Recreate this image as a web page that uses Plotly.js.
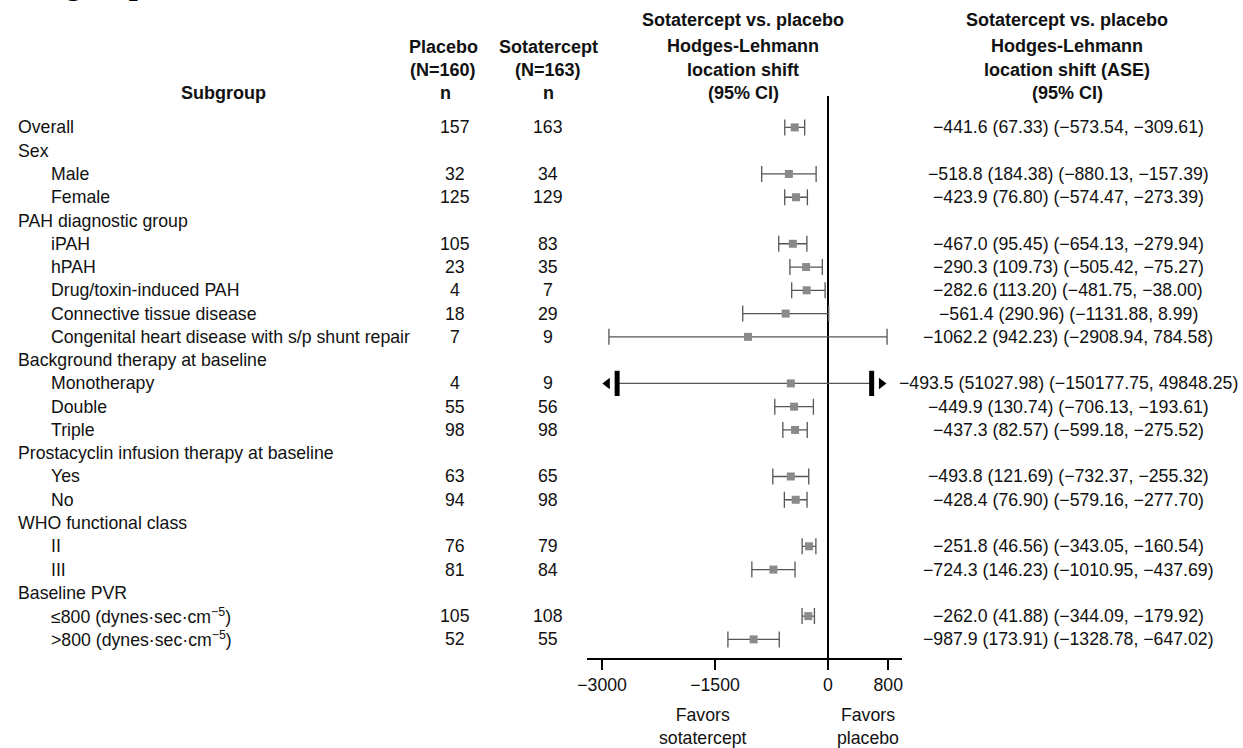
<!DOCTYPE html>
<html>
<head>
<meta charset="utf-8">
<script src="https://cdn.plot.ly/plotly-3.0.1.min.js"></script>
<style>html,body{margin:0;padding:0;background:#fff;}#chart{width:1243px;height:748px;}</style>
</head>
<body>
<div id="chart"></div>
<script>
// ---------- data ----------
const labels = ['Overall','Sex','Male','Female','PAH diagnostic group','iPAH','hPAH','Drug/toxin-induced PAH','Connective tissue disease','Congenital heart disease with s/p shunt repair','Background therapy at baseline','Monotherapy','Double','Triple','Prostacyclin infusion therapy at baseline','Yes','No','WHO functional class','II','III','Baseline PVR','≤800 (dynes·sec·cm<sup>−5</sup>)','>800 (dynes·sec·cm<sup>−5</sup>)'];
const indent = [0,0,1,1,0,1,1,1,1,1,0,1,1,1,0,1,1,0,1,1,0,1,1];
const placeboN = [157,null,32,125,null,105,23,4,18,7,null,4,55,98,null,63,94,null,76,81,null,105,52];
const sotaN = [163,null,34,129,null,83,35,7,29,9,null,9,56,98,null,65,98,null,79,84,null,108,55];
const est = [-441.6,null,-518.8,-423.9,null,-467.0,-290.3,-282.6,-561.4,-1062.2,null,-493.5,-449.9,-437.3,null,-493.8,-428.4,null,-251.8,-724.3,null,-262.0,-987.9];
const ase = [67.33,null,184.38,76.80,null,95.45,109.73,113.20,290.96,942.23,null,51027.98,130.74,82.57,null,121.69,76.90,null,46.56,146.23,null,41.88,173.91];
const ciLo = [-573.54,null,-880.13,-574.47,null,-654.13,-505.42,-481.75,-1131.88,-2908.94,null,-150177.75,-706.13,-599.18,null,-732.37,-579.16,null,-343.05,-1010.95,null,-344.09,-1328.78];
const ciHi = [-309.61,null,-157.39,-273.39,null,-279.94,-75.27,-38.00,8.99,784.58,null,49848.25,-193.61,-275.52,null,-255.32,-277.70,null,-160.54,-437.69,null,-179.92,-647.02];
const tickVals = [-3000,-1500,0,800];
const tickText = ['−3000','−1500','0','800'];

// ---------- layout helpers ----------
const W = 1243, H = 748;
const px = x => x / W;
const py = y => 1 - y / H;
const xRange = [-3200, 983];
const clipLo = -2800, clipHi = 580, arrowOff = 130;
const rowTop = -1.35, rowBottom = 22.8;
const FONT = 'Liberation Sans, Arial, Helvetica, sans-serif';
const FS = 17.7;
const HFS = 18;
const fmt = (v, d) => v.toFixed(d).replace('-', '−');

const rows = labels.map((_, i) => i);
const idx = rows.filter(i => est[i] !== null);

const dispLo = idx.map(i => (ciLo[i] < xRange[0] ? clipLo : ciLo[i]));
const dispHi = idx.map(i => (ciHi[i] > xRange[1] ? clipHi : ciHi[i]));

const traces = [];
traces.push({
  type: 'scatter', mode: 'markers',
  x: idx.map(i => est[i]), y: idx,
  marker: {symbol: 'square', size: 8, color: '#8a8a8a'},
  error_x: {type: 'data', symmetric: false,
    array: idx.map((i, k) => dispHi[k] - est[i]),
    arrayminus: idx.map((i, k) => est[i] - dispLo[k]),
    color: '#555555', thickness: 1.3, width: 8},
  hoverinfo: 'skip', showlegend: false
});

// arrows for CIs beyond the axis
const clippedL = idx.filter(i => ciLo[i] < xRange[0]);
const clippedR = idx.filter(i => ciHi[i] > xRange[1]);
traces.push({
  type: 'scatter', mode: 'markers',
  x: clippedL.map(() => clipLo).concat(clippedR.map(() => clipHi)),
  y: clippedL.concat(clippedR),
  marker: {symbol: 'line-ns', size: 18, line: {width: 5, color: '#000'}},
  hoverinfo: 'skip', showlegend: false
});
traces.push({
  type: 'scatter', mode: 'markers',
  x: clippedL.map(() => clipLo - arrowOff), y: clippedL,
  marker: {symbol: 'triangle-left', size: 10, color: '#000'},
  hoverinfo: 'skip', showlegend: false
});
traces.push({
  type: 'scatter', mode: 'markers',
  x: clippedR.map(() => clipHi + arrowOff), y: clippedR,
  marker: {symbol: 'triangle-right', size: 10, color: '#000'},
  hoverinfo: 'skip', showlegend: false
});

const ann = [];
const tfont = {family: FONT, size: FS, color: '#111'};
rows.forEach(i => {
  ann.push({xref: 'paper', yref: 'y', x: px(indent[i] ? 49 : 16), y: i, xanchor: 'left', yanchor: 'middle',
    text: labels[i], showarrow: false, font: tfont});
  if (placeboN[i] !== null) ann.push({xref: 'paper', yref: 'y', x: px(455), y: i, xanchor: 'center', yanchor: 'middle',
    text: String(placeboN[i]), showarrow: false, font: tfont});
  if (sotaN[i] !== null) ann.push({xref: 'paper', yref: 'y', x: px(548), y: i, xanchor: 'center', yanchor: 'middle',
    text: String(sotaN[i]), showarrow: false, font: tfont});
  if (est[i] !== null) ann.push({xref: 'paper', yref: 'y', x: px(1068), y: i, xanchor: 'center', yanchor: 'middle',
    text: fmt(est[i], 1) + ' (' + ase[i].toFixed(2) + ') (' + fmt(ciLo[i], 2) + ', ' + fmt(ciHi[i], 2) + ')',
    showarrow: false, font: tfont});
});

// headers
const hfont = {family: FONT, size: HFS, color: '#111'};
const hdr = (x, y, t) => ann.push({xref: 'paper', yref: 'paper', x: px(x), y: py(y), xanchor: 'center', yanchor: 'middle',
  text: '<b>' + t + '</b>', showarrow: false, font: hfont});
hdr(223, 93, 'Subgroup');
hdr(443, 47, 'Placebo'); hdr(443, 70, '(N=160)'); hdr(445, 93, 'n');
hdr(548, 47, 'Sotatercept'); hdr(548, 70, '(N=163)'); hdr(548, 93, 'n');
hdr(743, 20, 'Sotatercept vs. placebo'); hdr(743, 46, 'Hodges-Lehmann'); hdr(743, 70, 'location shift'); hdr(743, 93, '(95% CI)');
hdr(1067, 20, 'Sotatercept vs. placebo'); hdr(1067, 46, 'Hodges-Lehmann'); hdr(1067, 70, 'location shift (ASE)'); hdr(1067, 93, '(95% CI)');

// favors labels
ann.push({xref: 'paper', yref: 'paper', x: px(703), y: py(726), xanchor: 'center', yanchor: 'middle',
  text: 'Favors<br>sotatercept', showarrow: false, font: tfont});
ann.push({xref: 'paper', yref: 'paper', x: px(868), y: py(726), xanchor: 'center', yanchor: 'middle',
  text: 'Favors<br>placebo', showarrow: false, font: tfont});

// clipped page title at the top
ann.push({xref: 'paper', yref: 'paper', x: px(10), y: py(3), xanchor: 'left', yanchor: 'bottom',
  text: '<b>Subgroup</b>', showarrow: false, font: {family: 'Liberation Serif, Times New Roman, serif', size: 32, color: '#000'}});

const layout = {
  width: W, height: H,
  margin: {l: 0, r: 0, t: 0, b: 0, pad: 0},
  paper_bgcolor: '#fff', plot_bgcolor: 'rgba(0,0,0,0)',
  showlegend: false,
  xaxis: {
    domain: [px(587), px(902)], range: xRange,
    showgrid: false, zeroline: true, zerolinecolor: '#000', zerolinewidth: 1.6,
    showline: true, linecolor: '#000', linewidth: 2,
    ticks: 'outside', ticklen: 10, tickwidth: 2, tickcolor: '#000',
    tickvals: tickVals, ticktext: tickText,
    tickfont: {family: FONT, size: FS, color: '#111'}
  },
  yaxis: {
    domain: [py(658), py(96)], range: [rowBottom, rowTop],
    visible: false, showgrid: false, zeroline: false
  },
  annotations: ann
};

Plotly.newPlot('chart', traces, layout, {staticPlot: true, displayModeBar: false});
</script>
</body>
</html>
